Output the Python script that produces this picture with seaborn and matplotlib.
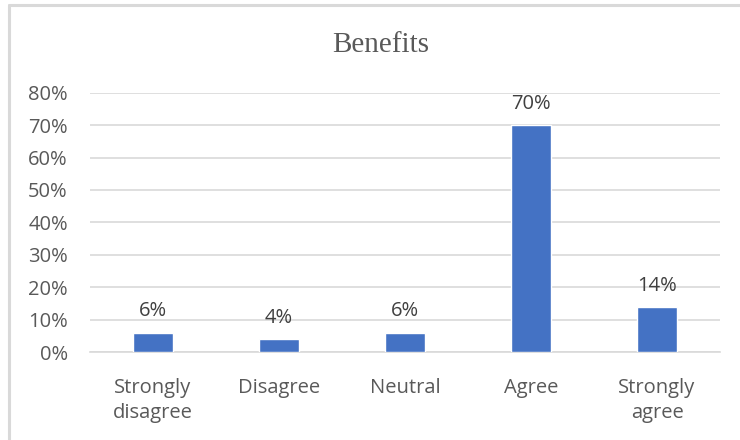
import matplotlib
matplotlib.use("Agg")
import matplotlib.pyplot as plt
from matplotlib.lines import Line2D
from matplotlib.ticker import PercentFormatter
import seaborn as sns
import pandas as pd

categories = ["Strongly\ndisagree", "Disagree", "Neutral", "Agree", "Strongly\nagree"]
shares = [0.06, 0.04, 0.06, 0.70, 0.14]
y_ticks = [0.0, 0.1, 0.2, 0.3, 0.4, 0.5, 0.6, 0.7, 0.8]
title = "Benefits"

sns.set_theme(style="white")
plt.rcParams["font.family"] = ["Open Sans", "DejaVu Sans"]

W, H = 740, 440
fig = plt.figure(figsize=(W / 100, H / 100), dpi=100)
fig.patch.set_facecolor("white")

# Chart-area frame: top and left edges only
frame_col = "#d9d9d9"
fig.add_artist(Line2D([9 / W, 1.0], [1 - 5.5 / H, 1 - 5.5 / H], color=frame_col, lw=2.2,
                      transform=fig.transFigure))
fig.add_artist(Line2D([9 / W, 9 / W], [0.0, 1 - 5.5 / H], color=frame_col, lw=2.2,
                      transform=fig.transFigure))

left, right = 90 / W, 720 / W
bottom, top = 1 - 352 / H, 1 - 92.7 / H
ax = fig.add_axes([left, bottom, right - left, top - bottom])

df = pd.DataFrame({"category": categories, "share": shares})
sns.barplot(data=df, x="category", y="share", color="#4472C4", saturation=1,
            width=0.32, ax=ax, zorder=3)

ax.set_ylim(0, 0.8)
ax.set_yticks(y_ticks)
ax.yaxis.set_major_formatter(PercentFormatter(1.0, decimals=0))
ax.set_xlim(-0.5, len(categories) - 0.5)
ax.grid(axis="y", color="#d9d9d9", lw=1.2, zorder=0)
ax.set_axisbelow(True)
for s in ["top", "right", "left"]:
    ax.spines[s].set_visible(False)
ax.spines["bottom"].set_color("#d9d9d9")
ax.spines["bottom"].set_linewidth(1.2)
ax.set_xlabel("")
ax.set_ylabel("")
ax.tick_params(axis="both", length=0, colors="#595959", labelsize=14.5)
ax.tick_params(axis="x", pad=19)
ax.tick_params(axis="y", pad=16)
for lbl in ax.get_xticklabels():
    lbl.set_linespacing(1.3)
for lbl in ax.get_yticklabels():
    lbl.set_horizontalalignment("right")

for i, v in enumerate(shares):
    ax.annotate(f"{v * 100:.0f}%", (i, v), xytext=(0, 8), textcoords="offset points",
                ha="center", va="bottom", fontsize=14.5, color="#404040")

fig.text(381 / W, 1 - 45 / H, title, ha="center", va="center", fontsize=21,
         color="#595959", family=["Liberation Serif", "DejaVu Serif"])

fig.savefig("out.png", dpi=100, facecolor="white")
